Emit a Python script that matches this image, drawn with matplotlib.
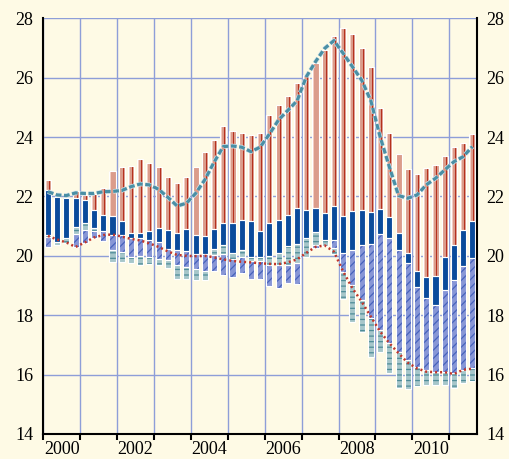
import numpy as np
import matplotlib
matplotlib.use("Agg")
import matplotlib.pyplot as plt
import matplotlib.patheffects as pe

# quarterly bars, 2000Q1 .. 2011Q3
n_q = 47
x = 2000 + (np.arange(n_q) + 0.5) / 4

# segment boundaries, top to bottom
salmon_top = np.array([22.55, 21.99, 21.94, 22.2, 22.05, 22.07, 22.3, 22.86, 23.0, 23.03,
                       23.25, 23.14, 23.0, 22.67, 22.44, 22.67, 23.0, 23.5, 23.9, 24.38,
                       24.2, 24.15, 24.07, 24.15, 24.74, 25.08, 25.38, 25.83, 26.09, 26.5,
                       26.93, 27.41, 27.68, 27.46, 27.01, 26.37, 24.98, 24.15, 23.44, 22.94,
                       22.77, 22.96, 23.07, 23.36, 23.68, 23.81, 24.11])
blue_top = np.array([22.22, 21.99, 21.94, 21.95, 21.88, 21.55, 21.36, 21.35, 21.18, 20.76,
                     20.78, 20.82, 20.93, 20.87, 20.78, 20.9, 20.7, 20.67, 20.9, 21.12,
                     21.1, 21.21, 21.19, 20.85, 21.1, 21.21, 21.38, 21.6, 21.56, 21.6,
                     21.45, 21.67, 21.34, 21.5, 21.53, 21.49, 21.57, 21.3, 20.76, 20.09,
                     19.5, 19.28, 19.32, 19.97, 20.37, 20.87, 21.17])
blue_bot = np.array([20.71, 20.48, 20.59, 20.98, 21.1, 20.93, 20.82, 20.7, 20.7, 20.59,
                     20.59, 20.54, 20.48, 20.22, 20.2, 20.17, 20.05, 20.06, 20.22, 20.35,
                     20.1, 20.2, 19.96, 19.96, 20.01, 20.11, 20.33, 20.4, 20.6, 20.8,
                     20.53, 20.54, 20.09, 20.18, 20.37, 20.39, 20.72, 20.59, 20.2, 19.75,
                     18.94, 18.57, 18.35, 18.85, 19.19, 19.66, 19.92])
teal_up_bot = np.array([20.62, 20.38, 20.42, 20.73, 20.87, 20.82, 20.82, 20.7, 20.7, 20.59,
                        20.59, 20.54, 20.48, 20.22, 20.2, 20.17, 20.05, 20.06, 20.03, 20.05,
                        19.89, 19.97, 19.82, 19.82, 19.69, 19.69, 19.69, 19.75, 19.95, 20.35,
                        20.33, 20.54, 20.09, 20.18, 20.37, 20.39, 20.72, 20.59, 20.2, 19.75,
                        18.94, 18.57, 18.35, 18.85, 19.19, 19.66, 19.92])
hatch_bot = np.array([20.3, 20.38, 20.42, 20.31, 20.42, 20.6, 20.5, 20.2, 20.14, 19.97,
                      20.0, 19.97, 19.9, 19.85, 19.69, 19.64, 19.55, 19.5, 19.5, 19.34,
                      19.3, 19.41, 19.22, 19.22, 19.0, 18.9, 19.08, 19.05, 19.95, 20.28,
                      20.33, 20.25, 19.47, 19.02, 18.52, 17.9, 17.5, 17.06, 16.77, 16.5,
                      16.27, 16.16, 16.1, 16.1, 16.05, 16.16, 16.21])
teal_dn_bot = np.array([20.3, 20.38, 20.42, 20.31, 20.42, 20.6, 20.5, 19.8, 19.8, 19.77,
                        19.7, 19.73, 19.7, 19.58, 19.21, 19.21, 19.19, 19.2, 19.5, 19.34,
                        19.3, 19.41, 19.22, 19.22, 19.0, 18.9, 19.08, 19.05, 19.95, 20.28,
                        20.33, 20.05, 18.54, 17.78, 17.45, 16.6, 16.77, 16.05, 15.54, 15.5,
                        15.6, 15.65, 15.65, 15.65, 15.54, 15.71, 15.8])

# the two lines
dashed_line = np.array([22.16, 22.05, 22.03, 22.12, 22.1, 22.1, 22.16, 22.17, 22.2, 22.33,
                        22.42, 22.39, 22.24, 21.97, 21.68, 21.77, 22.1, 22.56, 23.15, 23.68,
                        23.7, 23.66, 23.51, 23.66, 24.1, 24.58, 24.9, 25.22, 26.03, 26.54,
                        26.99, 27.25, 26.82, 26.37, 25.92, 25.22, 24.01, 23.0, 22.03, 21.94,
                        22.05, 22.39, 22.61, 22.89, 23.17, 23.34, 23.68])
dotted_line = np.array([20.67, 20.55, 20.45, 20.3, 20.45, 20.62, 20.7, 20.72, 20.65, 20.57,
                        20.52, 20.42, 20.3, 20.15, 20.03, 20.0, 19.99, 20.0, 19.95, 19.88,
                        19.83, 19.8, 19.78, 19.75, 19.73, 19.72, 19.78, 19.88, 20.1, 20.3,
                        20.35, 20.14, 19.47, 18.91, 18.46, 17.95, 17.45, 17.06, 16.72, 16.4,
                        16.21, 16.1, 16.08, 16.08, 16.02, 16.16, 16.2])

year_labels = ["2000", "2002", "2004", "2006", "2008", "2010"]
y_ticks = [14, 16, 18, 20, 22, 24, 26, 28]

BG = "#FEFAE5"
GRID = "#8E9ED8"
W = 0.165

plt.rcParams["font.family"] = ["Liberation Serif", "DejaVu Serif"]
plt.rcParams["hatch.linewidth"] = 0.9

fig = plt.figure(figsize=(5.09, 4.59), dpi=100, facecolor=BG)
ax = fig.add_axes([0.0851, 0.0545, 0.852, 0.9056], facecolor=BG)


def draw_seg(lo, hi, face, hatch=None, hcol=None):
    h = hi - lo
    m = h > 0.005
    ax.bar(x[m], h[m], bottom=lo[m], width=W, color=face,
           edgecolor=hcol if hatch else face, hatch=hatch, linewidth=0, zorder=2)
    ax.bar(x[m], h[m], bottom=lo[m], width=W, facecolor="none",
           edgecolor="white", linewidth=0.8, zorder=2.5)


# salmon part with a shaded look
h = salmon_top - blue_top
m = h > 0.005
ax.bar(x[m], h[m], bottom=blue_top[m], width=W, color="#DB9C8B", linewidth=0, zorder=2)
ax.bar(x[m] - W * 0.36, h[m], bottom=blue_top[m], width=W * 0.26, color="#F2CCC0",
       linewidth=0, zorder=2.1)
ax.bar(x[m] + W * 0.24, h[m], bottom=blue_top[m], width=W * 0.15, color="#B5301F",
       linewidth=0, zorder=2.1)
ax.bar(x[m], h[m], bottom=blue_top[m], width=W, facecolor="none", edgecolor="white",
       linewidth=0.8, zorder=2.5)

draw_seg(blue_bot, blue_top, "#0A4B9B")
draw_seg(teal_up_bot, blue_bot, "#A6C6CA", "---", "#4E8C98")
draw_seg(hatch_bot, teal_up_bot, "#8796D6", "////", "#4662BC")
draw_seg(teal_dn_bot, hatch_bot, "#A6C6CA", "---", "#4E8C98")

ax.plot(x, dashed_line, color="#4A8FA5", lw=2.3, ls=(0, (1.8, 0.8)), zorder=4,
        path_effects=[pe.Stroke(linewidth=3.3, foreground="#D8E6EC"), pe.Normal()])
ax.plot(x, dotted_line, color="#C0362A", lw=1.8, ls=(0, (0.8, 1.2)), zorder=4)

ax.set_xlim(2000, 2011.75)
ax.set_ylim(14, 28)
ax.set_axisbelow(True)

ax.set_xticks(np.arange(2000, 2012))
ax.set_xticklabels([])
ax.set_xticks([int(s) + 0.5 for s in year_labels], minor=True)
ax.set_xticklabels(year_labels, minor=True, fontsize=13)
ax.tick_params(axis="x", which="major", direction="out", length=4, width=1.5, color="black")
ax.tick_params(axis="x", which="minor", length=0, pad=5)

ax.set_yticks(y_ticks)
ax.set_yticklabels([str(v) for v in y_ticks], fontsize=13)
ax.tick_params(axis="y", which="both", length=0, pad=7, labelleft=True, labelright=True)

ax.grid(True, axis="x", which="major", color=GRID, lw=1)
ax.grid(True, axis="y", color=GRID, lw=1)

for side in ["left", "right", "bottom"]:
    ax.spines[side].set_color("black")
    ax.spines[side].set_linewidth(1.5)
ax.spines["top"].set_visible(False)

fig.savefig("out.png", dpi=100, facecolor=BG)
